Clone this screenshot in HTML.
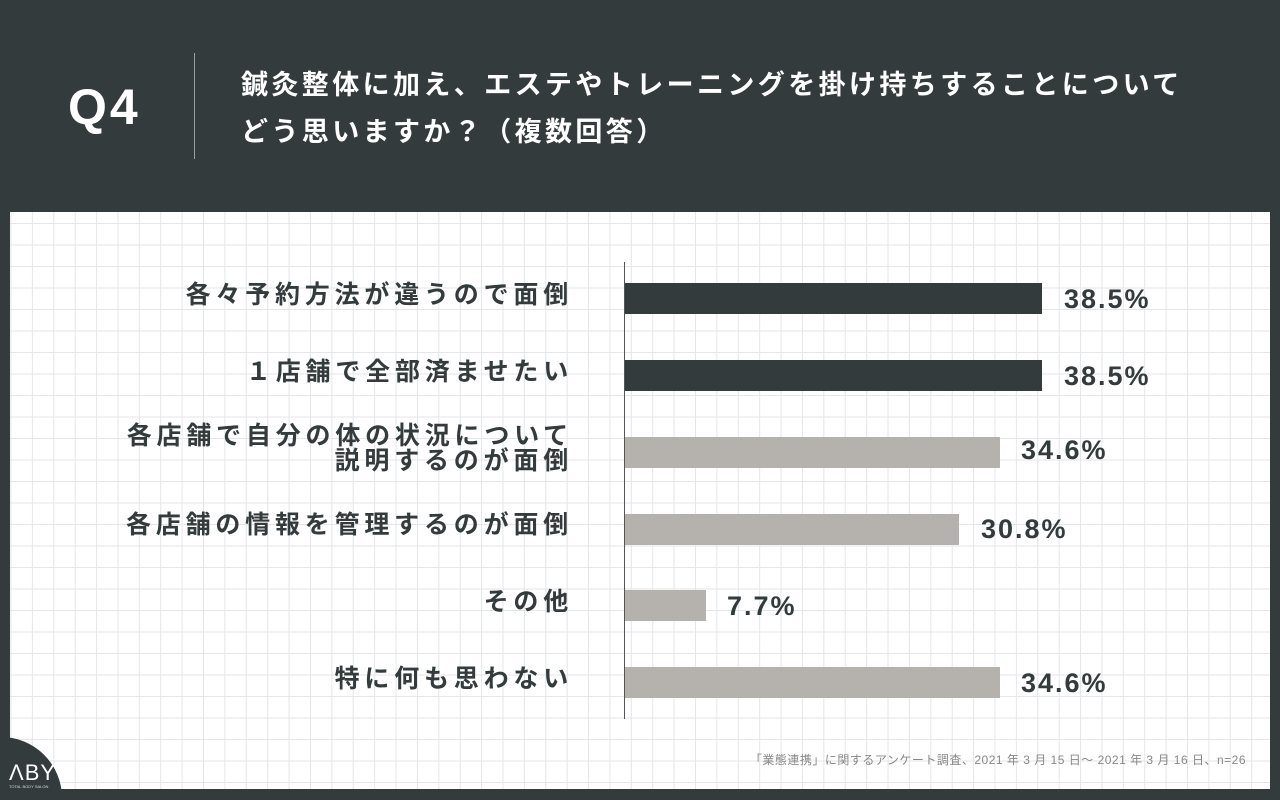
<!DOCTYPE html>
<html><head><meta charset="utf-8"><style>
*{margin:0;padding:0;box-sizing:border-box}
html{width:1280px;height:800px;overflow:hidden;background:#343b3d}
body{width:1280px;height:800px;background:#343b3d;position:relative;overflow:hidden;font-family:"Liberation Sans","Noto Sans CJK JP",sans-serif}
.q{position:absolute;left:68px;top:78px;color:#fff;font-weight:bold;font-size:50px;letter-spacing:3px}
.sep{position:absolute;left:194px;top:53px;width:1px;height:106px;background:#9aa0a2}
.title{position:absolute;left:241px;top:62px;color:#fff;font-weight:bold;font-size:27px;line-height:47px;letter-spacing:3.4px;white-space:nowrap}
.panel{position:absolute;left:10px;top:212px;width:1260px;height:577px;background-color:#fff;
background-image:linear-gradient(to right,#e4e6ea 1px,transparent 1px),linear-gradient(to bottom,#e4e6ea 1px,transparent 1px);
background-size:21.4px 21.5px;background-position:0.5px 11px}
.axis{position:absolute;left:624px;top:262px;width:1px;height:457px;background:#555}
.bar{position:absolute;left:625px;height:31px}
.d{background:#343b3d}.g{background:#b5b1ac}
.v{position:absolute;font-weight:bold;font-size:27px;letter-spacing:2px;color:#343b3d}
.l{position:absolute;right:707px;font-weight:bold;font-size:25px;letter-spacing:4.8px;color:#343b3d;text-align:right;line-height:25px;white-space:nowrap}
.foot{position:absolute;right:34px;top:751px;font-size:12px;letter-spacing:0.5px;color:#888;white-space:nowrap}
.lw{position:absolute;left:0;top:737px;width:70px;height:52px;overflow:hidden}
.logo{position:absolute;left:-60px;top:0;width:122px;height:122px;border-radius:50%;background:#343b3d}
.logot{position:absolute;left:9px;top:23px;color:#fff;font-size:22px;letter-spacing:1px}
.logos{position:absolute;left:9px;top:47px;color:#ddd;font-size:4px;white-space:nowrap}
</style></head><body>
<div class="q">Q4</div>
<div class="sep"></div>
<div class="title">鍼灸整体に加え、エステやトレーニングを掛け持ちすることについて<br>どう思いますか？（複数回答）</div>
<div class="panel"></div>
<div class="axis"></div>
<div class="l" style="top:283px">各々予約方法が違うので面倒</div>
<div class="bar d" style="top:283px;width:417px"></div><div class="v" style="left:1064px;top:284px">38.5%</div>
<div class="l" style="top:360px">１店舗で全部済ませたい</div>
<div class="bar d" style="top:360px;width:417px"></div><div class="v" style="left:1064px;top:361px">38.5%</div>
<div class="l" style="top:424px">各店舗で自分の体の状況について<br>説明するのが面倒</div>
<div class="bar g" style="top:437px;width:375px"></div><div class="v" style="left:1021px;top:435px">34.6%</div>
<div class="l" style="top:513px">各店舗の情報を管理するのが面倒</div>
<div class="bar g" style="top:514px;width:334px"></div><div class="v" style="left:981px;top:514px">30.8%</div>
<div class="l" style="top:590px">その他</div>
<div class="bar g" style="top:590px;width:81px"></div><div class="v" style="left:727px;top:591px">7.7%</div>
<div class="l" style="top:667px">特に何も思わない</div>
<div class="bar g" style="top:667px;width:375px"></div><div class="v" style="left:1021px;top:668px">34.6%</div>
<div class="foot">「業態連携」に関するアンケート調査、2021 年 3 月 15 日～ 2021 年 3 月 16 日、n=26</div>
<div class="lw"><div class="logo"></div><div class="logot">ΛBY</div><div class="logos">TOTAL BODY SALON</div></div>
</body></html>
